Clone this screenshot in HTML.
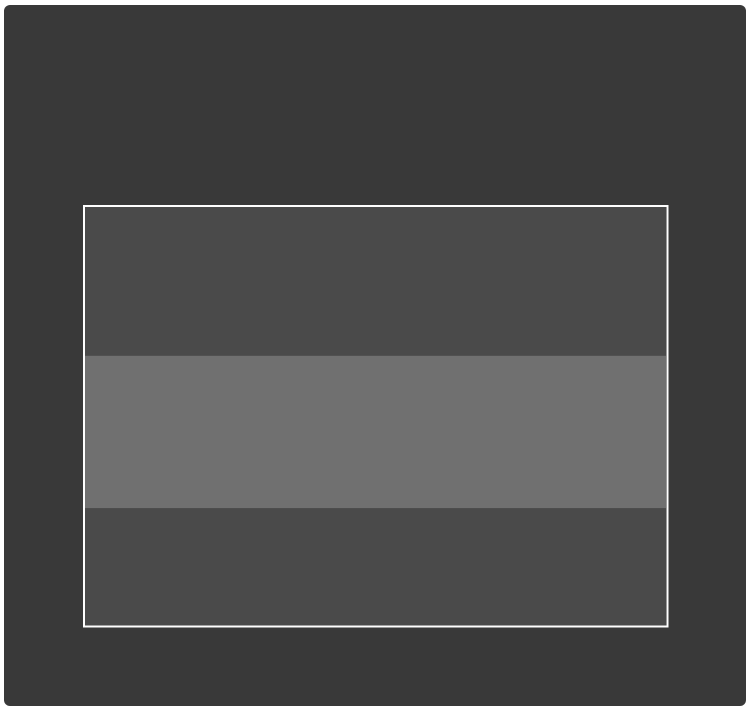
<!DOCTYPE html>
<html><head><meta charset="utf-8"><style>
html,body{margin:0;padding:0;background:#fff;width:750px;height:710px;overflow:hidden}
</style></head><body>
<svg width="750" height="710" xmlns="http://www.w3.org/2000/svg">
<rect x="4" y="5" width="742" height="701" rx="6" fill="#393939"/>
<g id="plot"></g>
<rect x="84" y="206" width="583.5" height="420.5" fill="none" stroke="#fff" stroke-width="2"/>
</svg>
<script>
const yDomain = [0, 100];
const bandEdges = [100, 64.5, 28.1, 0];
const bandColors = ['#4a4a4a', '#707070', '#4a4a4a'];
const plotTop = 207, plotBottom = 626, plotLeft = 85, plotRight = 666;
function yScale(v){ return plotBottom - (v - yDomain[0]) / (yDomain[1] - yDomain[0]) * (plotBottom - plotTop); }
const g = document.getElementById('plot');
for (let i = 0; i < bandColors.length; i++) {
  const r = document.createElementNS('http://www.w3.org/2000/svg', 'rect');
  const y1 = yScale(bandEdges[i]), y2 = yScale(bandEdges[i+1]);
  r.setAttribute('x', plotLeft);
  r.setAttribute('y', y1);
  r.setAttribute('width', plotRight - plotLeft);
  r.setAttribute('height', y2 - y1);
  r.setAttribute('fill', bandColors[i]);
  
  
  g.appendChild(r);
}
</script>
</body></html>
